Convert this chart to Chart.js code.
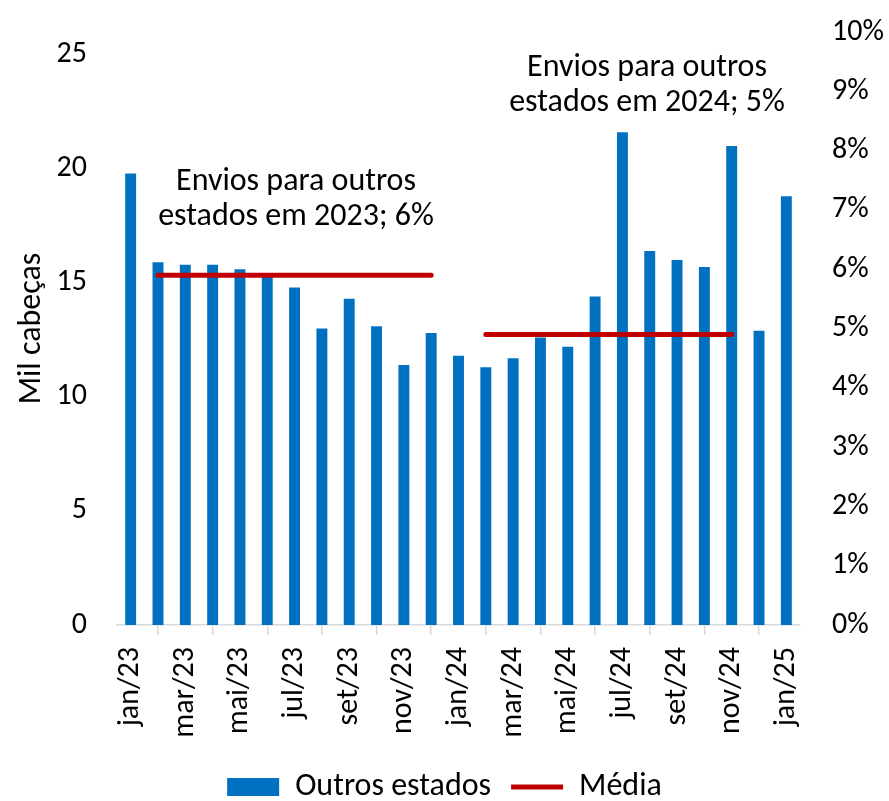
<!DOCTYPE html>
<html>
<head>
<meta charset="utf-8">
<script src="https://cdn.jsdelivr.net/npm/chart.js@4"></script>
<style>
  html, body { margin: 0; padding: 0; background: #fff; }
  canvas { display: block; }
</style>
</head>
<body>
<canvas id="enviosChart" width="889" height="801"></canvas>
<script>
// Meses (jan/23 a jan/25)
const months = ['jan/23', 'fev/23', 'mar/23', 'abr/23', 'mai/23', 'jun/23', 'jul/23', 'ago/23',
                'set/23', 'out/23', 'nov/23', 'dez/23', 'jan/24', 'fev/24', 'mar/24', 'abr/24',
                'mai/24', 'jun/24', 'jul/24', 'ago/24', 'set/24', 'out/24', 'nov/24', 'dez/24', 'jan/25'];

// Mil cabeças enviadas para outros estados
const outrosEstados = [19.8, 15.9, 15.8, 15.8, 15.6, 15.4, 14.8, 13.0, 14.3, 13.1, 11.4, 12.8,
                       11.8, 11.3, 11.7, 12.6, 12.2, 14.4, 21.6, 16.4, 16.0, 15.7, 21.0, 12.9, 18.8];

// Média anual (% do total), eixo secundário
const media = [null, 5.9, 5.9, 5.9, 5.9, 5.9, 5.9, 5.9, 5.9, 5.9, 5.9, 5.9,
               null, 4.9, 4.9, 4.9, 4.9, 4.9, 4.9, 4.9, 4.9, 4.9, 4.9, null, null];

const notes = [
    { lines: ['Envios para outros', 'estados em 2023; 6%'], x: 296, y: 182 },
    { lines: ['Envios para outros', 'estados em 2024; 5%'], x: 647, y: 68 }
];

const FONT = 'Carlito, Calibri, Lato, sans-serif';
const BLUE = '#0070C0';
const RED = '#C00000';

// Textos das anotações
const notesPlugin = {
    id: 'notes',
    afterDatasetsDraw(chart) {
        const ctx = chart.ctx;
        ctx.save();
        ctx.font = '32px ' + FONT;
        ctx.fillStyle = '#000';
        ctx.textAlign = 'center';
        ctx.textBaseline = 'middle';
        notes.forEach(n => {
            n.lines.forEach((t, i) => ctx.fillText(t, n.x, n.y + i * 35));
        });
        ctx.restore();
    }
};

// sem folga extra para meia altura dos rótulos
const noPadY = s => { s.paddingTop = 0; s.paddingBottom = 0; };

new Chart(document.getElementById('enviosChart'), {
    type: 'bar',
    data: {
        labels: months,
        datasets: [{
            label: 'Outros estados',
            data: outrosEstados,
            backgroundColor: BLUE,
            borderWidth: 0,
            categoryPercentage: 1,
            barPercentage: 0.4,
            pointStyle: 'rect',
            yAxisID: 'y',
            order: 1
        }, {
            type: 'line',
            label: 'Média',
            data: media,
            borderColor: RED,
            backgroundColor: RED,
            borderWidth: 5,
            borderCapStyle: 'round',
            pointRadius: 0,
            pointStyle: 'line',
            spanGaps: false,
            yAxisID: 'y1',
            order: 0
        }]
    },
    options: {
        responsive: false,
        animation: false,
        layout: { padding: { top: 32, bottom: -12, left: 0, right: 0 } },
        plugins: {
            tooltip: { enabled: false },
            legend: {
                position: 'bottom',
                labels: {
                    font: { family: FONT, size: 32 },
                    color: '#000',
                    usePointStyle: true,
                    pointStyleWidth: 52,
                    boxHeight: 18,
                    padding: 20,
                    sort: (a, b) => a.datasetIndex - b.datasetIndex
                }
            }
        },
        scales: {
            x: {
                offset: true,
                grid: { display: true, drawOnChartArea: false, drawTicks: true, tickLength: 10, color: '#d9d9d9', lineWidth: 1.5, offset: true },
                border: { display: true, color: '#d9d9d9', width: 1.5 },
                ticks: {
                    autoSkip: false,
                    minRotation: 90,
                    maxRotation: 90,
                    padding: 12,
                    color: '#000',
                    font: { family: FONT, size: 30 },
                    callback: (v, i) => (i % 2 === 0 ? months[i] : null)
                },
                afterFit: s => { s.height = 126; s.paddingLeft = 0; s.paddingRight = 0; }
            },
            y: {
                position: 'left',
                min: 0,
                max: 26,
                grid: { display: false, drawTicks: false },
                border: { display: false },
                ticks: { stepSize: 5, includeBounds: false, padding: 30, color: '#000', font: { family: FONT, size: 30 } },
                title: {
                    display: true,
                    text: 'Mil cabeças',
                    color: '#000',
                    font: { family: FONT, size: 32 },
                    padding: { top: 13, bottom: 0 }
                },
                afterFit: s => { s.width = 117; noPadY(s); }
            },
            y1: {
                position: 'right',
                min: 0,
                max: 10,
                grid: { display: false, drawTicks: false },
                border: { display: false },
                ticks: { stepSize: 1, padding: 32, color: '#000', font: { family: FONT, size: 30 }, callback: v => v + '%' },
                afterFit: s => { s.width = 89; noPadY(s); }
            }
        }
    },
    plugins: [notesPlugin]
});
</script>
</body>
</html>
